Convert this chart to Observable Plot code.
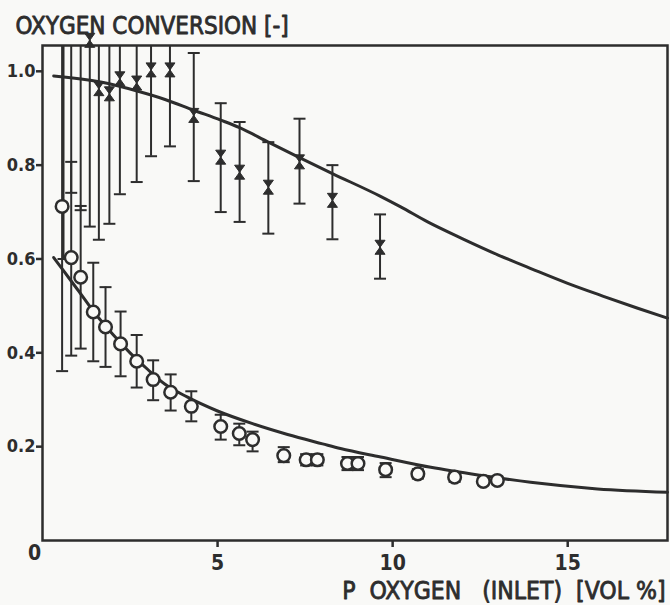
<!DOCTYPE html>
<html><head><meta charset="utf-8">
<script src="https://cdn.jsdelivr.net/npm/d3@7"></script>
<script src="https://cdn.jsdelivr.net/npm/@observablehq/plot@0.6"></script>
<style>
html,body{margin:0;padding:0;background:#f9f9f7;}
</style></head><body><div id="chart"></div>
<script>
// Upper series (hourglass "X" markers), null = marker above the chart
const xUp  = [0.60, 0.82, 1.09, 1.35, 1.61, 1.91, 2.21, 2.69, 3.10, 3.64, 4.32, 5.09, 5.63, 6.45, 7.34, 8.28, 9.64];
const yUp  = [null, null, null, 1.066, 0.963, 0.952, 0.984, 0.975, 1.003, 1.003, 0.906, 0.817, 0.785, 0.753, 0.807, 0.725, 0.625];
const loUp = [0.600, 0.741, 0.704, 0.669, 0.641, 0.675, 0.738, 0.764, 0.819, 0.840, 0.766, 0.700, 0.679, 0.654, 0.718, 0.642, 0.558];
const hiUp = [1.055, 1.055, 1.055, 1.066, 1.055, 1.055, 1.055, 1.055, 1.055, 1.055, 1.039, 0.932, 0.892, 0.849, 0.899, 0.800, 0.695];

// Lower series (open circles)
const xLo  = [0.56, 0.82, 1.09, 1.45, 1.80, 2.23, 2.69, 3.16, 3.66, 4.25, 5.09, 5.62, 6.00, 6.89, 7.53, 7.85, 8.71, 9.01, 9.80, 10.72, 11.77, 12.59, 12.99];
const yLo  = [0.712, 0.603, 0.561, 0.487, 0.455, 0.419, 0.382, 0.343, 0.316, 0.286, 0.243, 0.228, 0.215, 0.181, 0.172, 0.172, 0.164, 0.164, 0.151, 0.142, 0.135, 0.126, 0.128];
const loLo = [0.361, 0.394, 0.409, 0.382, 0.370, 0.350, 0.326, 0.299, 0.277, 0.254, 0.215, 0.203, 0.190, 0.167, 0.160, 0.160, 0.150, 0.150, 0.135, 0.132, 0.125, 0.118, 0.120];
const hiLo = [1.055, 0.807, 0.713, 0.592, 0.540, 0.488, 0.438, 0.384, 0.354, 0.318, 0.268, 0.249, 0.232, 0.199, 0.184, 0.184, 0.178, 0.178, 0.165, 0.152, 0.145, 0.134, 0.136];

// Fitted curves
const upCurveX = [0.32, 1.66, 2.70, 3.50, 4.32, 5.09, 5.63, 6.45, 7.34, 8.28, 9.64, 10.23, 11.0, 12.0, 13.0, 14.0, 15.0, 16.0, 17.0, 17.85];
const upCurveY = [0.990, 0.977, 0.958, 0.940, 0.917, 0.896, 0.880, 0.849, 0.816, 0.782, 0.734, 0.711, 0.679, 0.643, 0.609, 0.578, 0.548, 0.521, 0.495, 0.474];
const loCurveX = [0.32, 0.60, 1.00, 1.47, 2.00, 2.50, 3.00, 3.50, 4.13, 5.00, 6.00, 7.00, 8.00, 8.51, 9.66, 11.09, 12.50, 13.94, 15.85, 17.85];
const loCurveY = [0.603, 0.575, 0.535, 0.487, 0.440, 0.400, 0.365, 0.333, 0.306, 0.276, 0.249, 0.226, 0.206, 0.196, 0.178, 0.156, 0.139, 0.124, 0.110, 0.103];

// Axes text
const xTicks = [5, 10, 15];
const xTickLabels = ["5", "10", "15"];
const yTicks = [0.2, 0.4, 0.6, 0.8, 1.0];
const yTickLabels = ["0.2", "0.4", "0.6", "0.8", "1.0"];
const originLabel = ["0"];
const yTitle = ["OXYGEN CONVERSION [-]"];
const xTitle = ["P\u00a0\u00a0OXYGEN\u00a0\u00a0\u00a0(INLET)\u00a0\u00a0[VOL\u00a0%]"];

const ink = "#2d2d2d";
const paper = "#f9f9f7";
const font = "'DejaVu Sans Condensed', 'Liberation Sans Narrow', sans-serif";
const yTop = 1.055;

const upPts = xUp.map((x, i) => ({x, y: yUp[i], lo: loUp[i], hi: hiUp[i]}));
const loPts = xLo.map((x, i) => ({x, y: yLo[i], lo: loLo[i], hi: hiLo[i]}));
const allPts = upPts.concat(loPts);
const caps = [];
for (const p of allPts) {
  caps.push({x: p.x, y: p.lo});
  if (p.hi < yTop - 0.005) caps.push({x: p.x, y: p.hi});
}
const upCurve = upCurveX.map((x, i) => ({x, y: upCurveY[i]}));
const loCurve = loCurveX.map((x, i) => ({x, y: loCurveY[i]}));

const capSymbol = {draw(ctx, size) {const r = Math.sqrt(size / Math.PI); ctx.moveTo(-r, 0); ctx.lineTo(r, 0);}};
const hourglass = {draw(ctx, size) {const r = Math.sqrt(size / Math.PI); const w = r * 0.72; ctx.moveTo(-w, -r); ctx.lineTo(w, -r); ctx.lineTo(-w, r); ctx.lineTo(w, r); ctx.closePath();}};

const chart = Plot.plot({
  width: 670, height: 605,
  marginLeft: 42, marginRight: 3, marginTop: 45, marginBottom: 65,
  style: {fontFamily: font, background: paper, color: ink, overflow: "visible"},
  x: {domain: [0, 17.85]},
  y: {domain: [0, yTop]},
  marks: [
    Plot.axisY(yTicks, {tickSize: 6, tickPadding: 1, fontSize: 18, fontWeight: "bold", strokeWidth: 2.5, stroke: ink, fill: ink, label: null,
      tickFormat: d => yTickLabels[yTicks.indexOf(d)]}),
    Plot.axisX(xTicks, {tickSize: 7, tickPadding: 8, fontSize: 21, fontWeight: "bold", strokeWidth: 2.5, stroke: ink, fill: ink, label: null,
      tickFormat: d => xTickLabels[xTicks.indexOf(d)]}),
    Plot.text(originLabel, {x: () => 0, y: () => 0, text: d => d, dx: -8, dy: 5, lineAnchor: "top", fontSize: 21, fontWeight: "bold", fill: ink}),
    Plot.frame({stroke: ink, strokeWidth: 2.5}),
    Plot.line(upCurve, {x: "x", y: "y", curve: "monotone-x", stroke: ink, strokeWidth: 3}),
    Plot.line(loCurve, {x: "x", y: "y", curve: "monotone-x", stroke: ink, strokeWidth: 3}),
    Plot.ruleX(allPts, {x: "x", y1: "lo", y2: "hi", stroke: ink, strokeWidth: 2}),
    Plot.dot(caps, {x: "x", y: "y", symbol: capSymbol, r: 6, stroke: ink, strokeWidth: 2, fill: "none"}),
    Plot.dot(upPts.filter(d => d.y != null), {x: "x", y: "y", symbol: hourglass, r: 7, fill: ink, stroke: ink, strokeWidth: 1}),
    Plot.dot(loPts, {x: "x", y: "y", r: 6.3, fill: paper, stroke: ink, strokeWidth: 2.5}),
    Plot.text(yTitle, {frameAnchor: "top-left", text: d => d, dx: -27, dy: -12, lineAnchor: "bottom", textAnchor: "start", fontSize: 24, fill: ink, stroke: ink, strokeWidth: 0.8}),
    Plot.text(xTitle, {frameAnchor: "bottom-right", text: d => d, dx: -2, dy: 58, lineAnchor: "bottom", textAnchor: "end", fontSize: 24.5, fill: ink, stroke: ink, strokeWidth: 0.8})
  ]
});
document.getElementById("chart").appendChild(chart);
</script>
</body></html>
